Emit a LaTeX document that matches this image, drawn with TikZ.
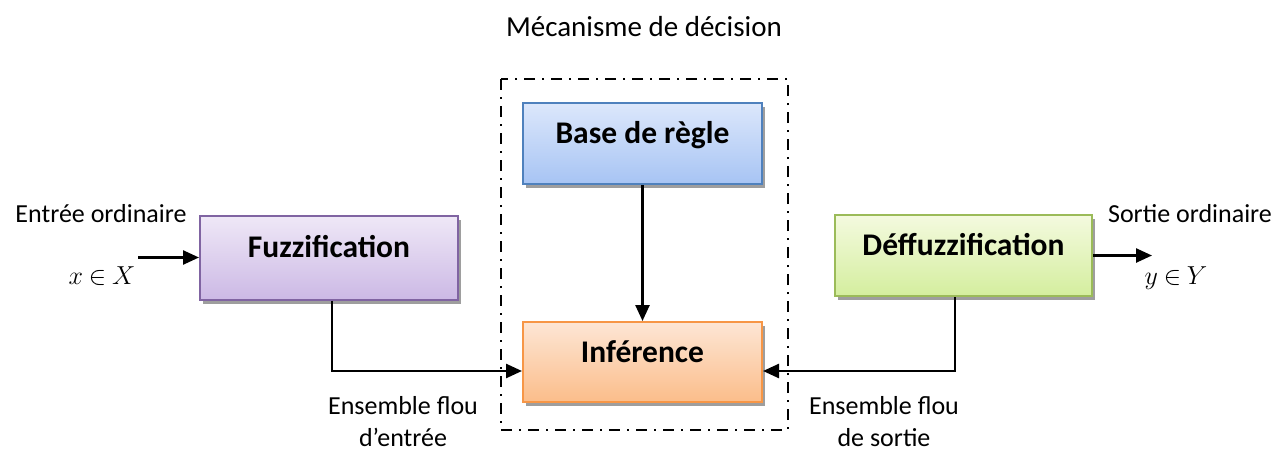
\RequirePackage{fix-cm}
\documentclass[tikz,border=0pt]{standalone}
\usepackage{fontspec}
\setmainfont{Carlito}
\usetikzlibrary{arrows.meta,shadows}
\definecolor{fuzzB}{HTML}{8064A2}
\definecolor{fuzzT}{HTML}{EFE8F7}
\definecolor{fuzzD}{HTML}{CCB9E5}
\definecolor{baseB}{HTML}{4F81BD}
\definecolor{baseT}{HTML}{DCE7FB}
\definecolor{baseD}{HTML}{A7C4F4}
\definecolor{infB}{HTML}{F79646}
\definecolor{infT}{HTML}{FDE6D5}
\definecolor{infD}{HTML}{FBBD8A}
\definecolor{defB}{HTML}{9BBB59}
\definecolor{defT}{HTML}{F4FADF}
\definecolor{defD}{HTML}{D4EE9E}
\tikzset{
  blockbox/.style={rectangle, line width=2pt, inner sep=0pt,
    text height=20pt, text depth=20pt,
    font=\fontsize{31.5}{36}\selectfont\bfseries,
    drop shadow={shadow xshift=3pt, shadow yshift=-4pt, fill=black!38, opacity=1}},
  lbl/.style={font=\fontsize{26}{31}\selectfont, anchor=base, inner sep=0pt},
  toplbl/.style={font=\fontsize{29}{34}\selectfont, anchor=base, inner sep=0pt},
  conn/.style={line width=2.5pt, -{Triangle[length=16pt,width=14pt]}}
}
\begin{document}
\begin{tikzpicture}[x=1pt,y=-1pt]
\useasboundingbox (0,0) rectangle (1277,452);
% decision mechanism frame
\draw[line width=2pt, dash pattern=on 11pt off 7pt on 2pt off 7pt]
  (501,79) rectangle (788,430);
\node[toplbl] (meca) at (644,37) {Mécanisme de décision};
% blocks
\node[blockbox, draw=fuzzB, top color=fuzzT, bottom color=fuzzD,
  minimum width=258pt, minimum height=84pt] (fuzz) at (329,257.5) {Fuzzification};
\node[blockbox, draw=baseB, top color=baseT, bottom color=baseD,
  minimum width=239pt, minimum height=81pt] (base) at (642.5,143.5) {Base de règle};
\node[blockbox, draw=infB, top color=infT, bottom color=infD,
  minimum width=239pt, minimum height=80pt] (inf) at (642.5,362) {Inférence};
\node[blockbox, draw=defB, top color=defT, bottom color=defD,
  minimum width=257pt, minimum height=81pt] (deff) at (963.5,255.5) {Déffuzzification};
% free ends
\coordinate (in) at (138,257.5);
\coordinate (out) at (1152,255.5);
% connectors
\draw[conn] (in) -- (fuzz.west);
\draw[conn] (deff.east) -- (out);
\draw[conn] (base.south) -- (inf.north);
\draw[conn] ([xshift=3pt]fuzz.south) |- ([yshift=-9pt]inf.west);
\draw[conn] ([xshift=-8.5pt]deff.south) |- ([yshift=-9pt]inf.east);
% labels
\node[lbl] (ein) at (101,222) {Entrée ordinaire};
\node[lbl] (xin) at (102,284) {$x\mathbin{\in} X$};
\node[lbl] (sout) at (1190,222) {Sortie ordinaire};
\node[lbl] (yout) at (1176,284) {$y\mathbin{\in} Y$};
\node[lbl] (ef1) at (403,414) {Ensemble flou};
\node[lbl] (ef2) at (403,446) {d’entrée};
\node[lbl] (es1) at (884,414) {Ensemble flou};
\node[lbl] (es2) at (884,446) {de sortie};
\end{tikzpicture}
\end{document}
